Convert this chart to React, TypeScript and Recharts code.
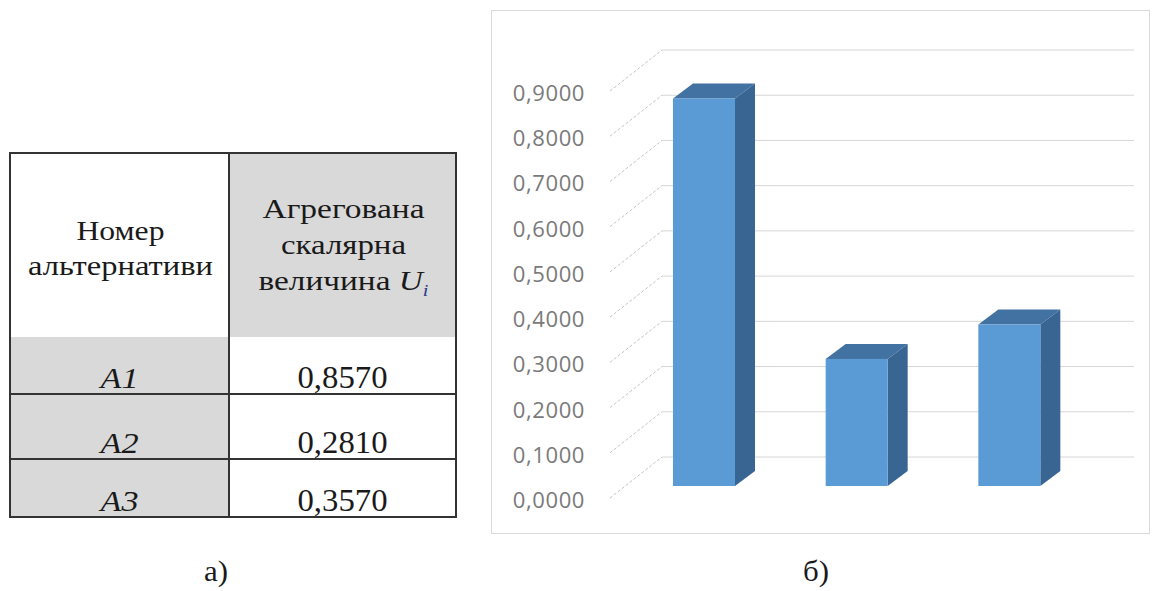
import React from 'react';
import { BarChart, Bar, XAxis, YAxis, CartesianGrid } from 'recharts';

// ---------- data ----------
const alternatives = ['A1', 'A2', 'A3'];
const aggregatedValues = [0.857, 0.281, 0.357];
const yTicks = [0, 0.1, 0.2, 0.3, 0.4, 0.5, 0.6, 0.7, 0.8, 0.9];
const headerCol1 = ['Номер', 'альтернативи'];
const headerCol2 = ['Агрегована', 'скалярна', 'величина'];
const panelLabels = ['а)', 'б)'];

const fmt = (v: number) => v.toFixed(4).replace('.', ',');

const chartData = alternatives.map((name, i) => ({ name, value: aggregatedValues[i] }));

// ---------- 3D look ----------
const DEPTH = { dx: 20, dy: 15 };
const FRONT = { dx: -18, dy: 12 };
const BACK = { dx: 34, dy: -29 };
const BACK_RIGHT_EXTRA = 48;

const FRONT_FILL = '#5B9BD5';
const TOP_FILL = '#4272A1';
const SIDE_FILL = '#386592';

const SERIF = '"Liberation Serif", "DejaVu Serif", "Noto Serif", serif';
const serifStyle = { fontFamily: SERIF } as React.CSSProperties;

// widths of the typeset (Times-like) words, used to condense the fallback serif
const HEADER1_WIDTHS = [88, 185];
const HEADER2_WIDTHS = [162, 125, 170];
const ALT_WIDTH = 38;
const VALUE_WIDTH = 90;
const PANEL_WIDTHS = [24, 26];

const Box3D = (p: any) => {
  const { x, y, width: w, height: h } = p;
  if (h == null || w == null) return null;
  const { dx, dy } = DEPTH;
  return (
    <g>
      <polygon
        points={`${x},${y} ${x + dx},${y - dy} ${x + w + dx},${y - dy} ${x + w},${y}`}
        fill={TOP_FILL}
      />
      <polygon
        points={`${x + w},${y} ${x + w + dx},${y - dy} ${x + w + dx},${y + h - dy} ${x + w},${y + h}`}
        fill={SIDE_FILL}
      />
      <rect x={x} y={y} width={w} height={h} fill={FRONT_FILL} />
    </g>
  );
};

const GridLine = (p: any) => {
  const { x1, x2, y1, index } = p;
  return (
    <g key={`grid-${index}`}>
      <line
        x1={x1 + FRONT.dx}
        y1={y1 + FRONT.dy}
        x2={x1 + BACK.dx}
        y2={y1 + BACK.dy}
        stroke="#C4C4C4"
        strokeWidth={1}
        strokeDasharray="3 2"
      />
      <line
        x1={x1 + BACK.dx}
        y1={y1 + BACK.dy}
        x2={x2 + BACK_RIGHT_EXTRA}
        y2={y1 + BACK.dy}
        stroke="#D6D6D6"
        strokeWidth={1}
      />
    </g>
  );
};

const YTick = (p: any) => (
  <text
    x={p.x - 43}
    y={p.y + 13}
    textAnchor="end"
    dominantBaseline="central"
    fill="#7A7A7A"
    style={{ fontFamily: '"Open Sans", sans-serif', fontSize: 22, letterSpacing: 0.6 }}
  >
    {fmt(p.payload.value)}
  </text>
);

// ---------- table ----------
const TABLE = { left: 10, top: 153, right: 456, bottom: 517, divider: 229, headerBottom: 337 };
const ROW_BOTTOMS = [394, 459, 517];

const Table = () => {
  const c1 = (TABLE.left + TABLE.divider) / 2;
  const c2 = (TABLE.divider + TABLE.right) / 2;
  const rowTops = [TABLE.headerBottom, ...ROW_BOTTOMS.slice(0, -1)];
  return (
    <g>
      <rect x={TABLE.divider} y={TABLE.top} width={TABLE.right - TABLE.divider} height={TABLE.headerBottom - TABLE.top} fill="#D9D9D9" />
      <rect x={TABLE.left} y={TABLE.headerBottom} width={TABLE.divider - TABLE.left} height={TABLE.bottom - TABLE.headerBottom} fill="#D9D9D9" />
      {headerCol1.map((t, i) => (
        <text
          key={t}
          x={c1 + 1}
          y={240 + i * 35}
          textAnchor="middle"
          textLength={HEADER1_WIDTHS[i]}
          lengthAdjust="spacingAndGlyphs"
          style={{ ...serifStyle, fontSize: 28 }}
          fill="#1A1A1A"
        >
          {t}
        </text>
      ))}
      {headerCol2.map((t, i) => (
        <text
          key={t}
          x={c2 + 1}
          y={218 + i * 36}
          textAnchor="middle"
          textLength={HEADER2_WIDTHS[i]}
          lengthAdjust="spacingAndGlyphs"
          style={{ ...serifStyle, fontSize: 28 }}
          fill="#1A1A1A"
        >
          {t}
          {i === headerCol2.length - 1 && (
            <>
              <tspan> </tspan>
              <tspan style={{ fontStyle: 'italic' }}>U</tspan>
              <tspan style={{ fontStyle: 'italic', fontSize: 17 }} dy={6} fill="#2A3A8A">i</tspan>
            </>
          )}
        </text>
      ))}
      {alternatives.map((a, i) => (
        <g key={a}>
          <text
            x={c1}
            y={ROW_BOTTOMS[i] - 6}
            textAnchor="middle"
            textLength={ALT_WIDTH}
            lengthAdjust="spacingAndGlyphs"
            style={{ ...serifStyle, fontSize: 30, fontStyle: 'italic' }}
            fill="#1A1A1A"
          >
            {a}
          </text>
          <text
            x={c2}
            y={ROW_BOTTOMS[i] - 6}
            textAnchor="middle"
            textLength={VALUE_WIDTH}
            lengthAdjust="spacingAndGlyphs"
            style={{ ...serifStyle, fontSize: 31 }}
            fill="#1A1A1A"
          >
            {fmt(aggregatedValues[i])}
          </text>
          {i > 0 && (
            <line x1={TABLE.left} x2={TABLE.right} y1={rowTops[i]} y2={rowTops[i]} stroke="#333" strokeWidth={2} />
          )}
        </g>
      ))}
      <line x1={TABLE.divider} x2={TABLE.divider} y1={TABLE.top} y2={TABLE.bottom} stroke="#333" strokeWidth={2} />
      <rect x={TABLE.left} y={TABLE.top} width={TABLE.right - TABLE.left} height={TABLE.bottom - TABLE.top} fill="none" stroke="#333" strokeWidth={2} />
    </g>
  );
};

export default function App() {
  const panelX = [216, 816];
  return (
    <div style={{ position: 'absolute', left: 0, top: 0, width: 1153, height: 591, background: '#fff', overflow: 'hidden' }}>
      <svg width={1153} height={591} style={{ position: 'absolute', left: 0, top: 0 }}>
        <Table />
        {panelLabels.map((l, i) => (
          <text
            key={l}
            x={panelX[i]}
            y={581}
            textAnchor="middle"
            textLength={PANEL_WIDTHS[i]}
            lengthAdjust="spacingAndGlyphs"
            style={{ ...serifStyle, fontSize: 29 }}
            fill="#1A1A1A"
          >
            {l}
          </text>
        ))}
      </svg>
      <div
        style={{
          position: 'absolute',
          left: 491,
          top: 10,
          width: 657,
          height: 522,
          border: '1px solid #D9D9D9',
        }}
      >
        <BarChart
          width={655}
          height={522}
          data={chartData}
          margin={{ top: 68, right: 61, bottom: 47, left: 0 }}
        >
          <CartesianGrid horizontal={GridLine as any} vertical={false} />
          <XAxis dataKey="name" hide />
          <YAxis
            type="number"
            domain={[0, 0.9]}
            ticks={yTicks}
            width={136}
            axisLine={false}
            tickLine={false}
            tickSize={0}
            tickMargin={0}
            tick={YTick}
            interval={0}
          />
          <Bar dataKey="value" barSize={62} shape={Box3D} isAnimationActive={false} />
        </BarChart>
      </div>
    </div>
  );
}
